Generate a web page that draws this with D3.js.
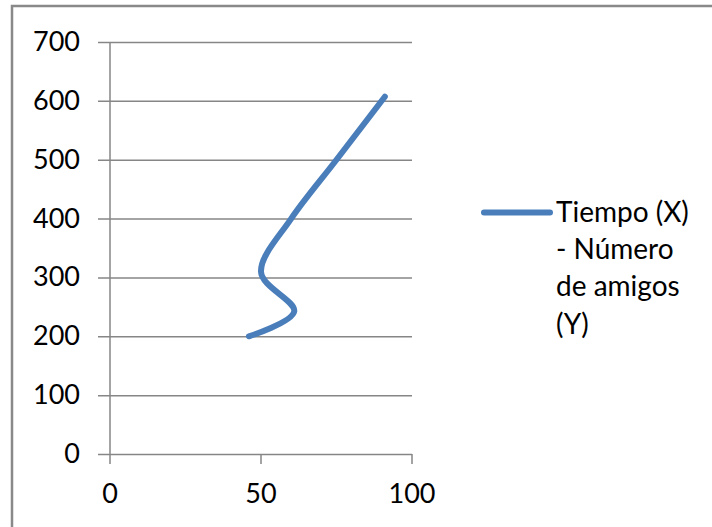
<!DOCTYPE html>
<html>
<head>
<meta charset="utf-8">
<script src="https://cdn.jsdelivr.net/npm/d3@7"></script>
<style>
  html, body { margin: 0; padding: 0; background: #fff; }
  svg { display: block; }
  text { font-family: Lato, "Open Sans", sans-serif; fill: #000; }
</style>
</head>
<body>
<script>
// ---- data ----
const tiempoX = [46, 61, 50, 60, 75, 91];
const amigosY = [200, 242, 310, 400, 500, 607];
const xTicks = [0, 50, 100];
const yTicks = [0, 100, 200, 300, 400, 500, 600, 700];
const legendLines = ["Tiempo (X)", "- Número", "de amigos", "(Y)"];

const W = 712, H = 527;
const svg = d3.select("body").append("svg").attr("width", W).attr("height", H);

// outer chart frame
svg.append("rect")
  .attr("x", 12).attr("y", 6).attr("width", W).attr("height", H)
  .attr("fill", "#fff").attr("stroke", "#898989").attr("stroke-width", 2.5);

const x = d3.scaleLinear().domain([0, 100]).range([110, 412]);
const y = d3.scaleLinear().domain([0, 700]).range([454, 42]);
const gridColor = "#868686";

// gridlines + y ticks
svg.append("g").selectAll("line").data(yTicks).join("line")
  .attr("x1", 98).attr("x2", x(100))
  .attr("y1", d => y(d) + 0.5).attr("y2", d => y(d) + 0.5)
  .attr("stroke", gridColor).attr("stroke-width", 1.5);

// y axis line
svg.append("line")
  .attr("x1", x(0)).attr("x2", x(0)).attr("y1", y(700)).attr("y2", y(0))
  .attr("stroke", gridColor).attr("stroke-width", 1.5);

// x ticks
svg.append("g").selectAll("line").data(xTicks).join("line")
  .attr("x1", d => x(d)).attr("x2", d => x(d))
  .attr("y1", y(0)).attr("y2", y(0) + 10)
  .attr("stroke", gridColor).attr("stroke-width", 1.5);

// y labels
svg.append("g").selectAll("text").data(yTicks).join("text")
  .attr("x", 80).attr("y", d => y(d) + 9)
  .attr("text-anchor", "end").attr("font-size", 27)
  .text(d => d);

// x labels
svg.append("g").selectAll("text").data(xTicks).join("text")
  .attr("x", d => x(d)).attr("y", 503)
  .attr("text-anchor", "middle").attr("font-size", 27)
  .text(d => d);

// series
const pts = tiempoX.map((v, i) => [v, amigosY[i]]);
const line = d3.line().x(d => x(d[0])).y(d => y(d[1])).curve(d3.curveCardinal.tension(0));
svg.append("path").datum(pts)
  .attr("d", line).attr("fill", "none")
  .attr("stroke", "#4a7ebb").attr("stroke-width", 6)
  .attr("stroke-linecap", "round").attr("stroke-linejoin", "round");

// legend
svg.append("line")
  .attr("x1", 484).attr("x2", 550).attr("y1", 212.5).attr("y2", 212.5)
  .attr("stroke", "#4a7ebb").attr("stroke-width", 6).attr("stroke-linecap", "round");
svg.append("g").selectAll("text").data(legendLines).join("text")
  .attr("x", 556).attr("y", (d, i) => 222 + i * 37.2)
  .attr("font-size", 28)
  .text(d => d);
</script>
</body>
</html>
